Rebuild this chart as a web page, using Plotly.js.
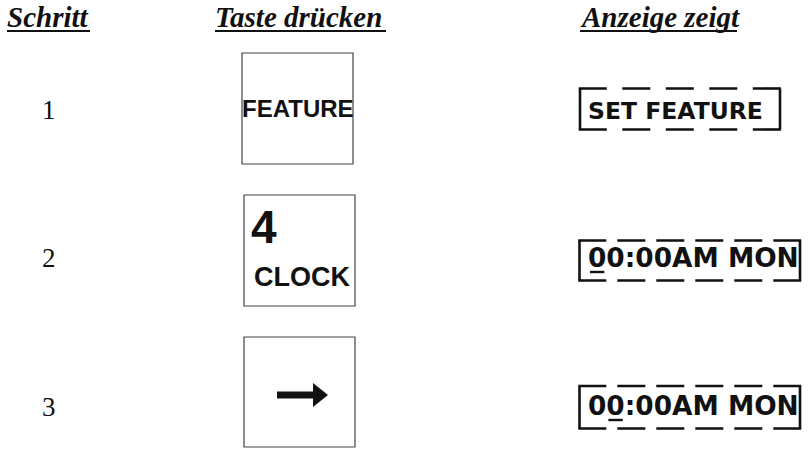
<!DOCTYPE html>
<html>
<head>
<meta charset="utf-8">
<script src="https://cdn.plot.ly/plotly-3.0.1.min.js"></script>
<style>html,body{margin:0;padding:0;background:#fff;}#chart{width:808px;height:450px;}</style>
</head>
<body>
<div id="chart"></div>
<script>
// ---- content ----
const headers = ['Schritt', 'Taste drücken', 'Anzeige zeigt'];
const steps = ['1', '2', '3'];
const keyTopLabels = ['', '4', ''];
const keyLabels = ['FEATURE', 'CLOCK', '→'];
const displayTexts = ['SET FEATURE', '00:00AM MON', '00:00AM MON'];
const cursorIndex = [null, 0, 1];

// ---- layout geometry (pixel space) ----
const headerX = [7, 215, 580];
const headerUnderline = [[7, 90], [215, 386], [580, 737]];
const stepX = 49;
const stepBaseline = [119, 267, 416];
const keyBoxes = [[242, 353, 53, 164], [244, 355, 195, 306], [244, 355, 337, 447]];
const dispBoxes = [[580, 780, 88.5, 129.5], [579.5, 800, 240.5, 280.5], [579.5, 800, 386, 428.5]];
const dispDash = ['28px,15.5px', '28px,11px', '28px,11px'];
const dispFont = [23.5, 26.4, 26.4];
const dispBaseline = [119, 267, 415];
const dispLeft = 588;
const zeroAdvance = 0.696; // DejaVu Sans Bold digit advance (em)

const shapes = [];
const annotations = [];
const ink = '#111';

function ann(x, y, text, font, xanchor) {
  annotations.push({
    x: x, y: y, xref: 'x', yref: 'y', text: text, showarrow: false,
    xanchor: xanchor || 'center', yanchor: 'middle', borderpad: 0, borderwidth: 0,
    font: Object.assign({color: ink}, font)
  });
}

// headers
headers.forEach((h, i) => {
  ann(headerX[i], 27 - 0.3375 * 29, h,
      {family: 'Liberation Serif, Times New Roman, serif', size: 29, weight: 'bold', style: 'italic'}, 'left');
  shapes.push({type: 'line', xref: 'x', yref: 'y', x0: headerUnderline[i][0], x1: headerUnderline[i][1],
    y0: 31, y1: 31, line: {color: ink, width: 2}});
});

// step numbers
steps.forEach((s, i) => {
  ann(stepX, stepBaseline[i] - 0.3375 * 27, s,
      {family: 'Liberation Serif, Times New Roman, serif', size: 27});
});

// key boxes
keyBoxes.forEach((b, i) => {
  shapes.push({type: 'rect', xref: 'x', yref: 'y', x0: b[0], x1: b[1], y0: b[2], y1: b[3],
    line: {color: '#444', width: 1.2}, fillcolor: 'rgba(0,0,0,0)'});
  const cx = (b[0] + b[1]) / 2;
  if (keyLabels[i] === '→') {
    // arrow glyph drawn as shapes
    shapes.push({type: 'rect', xref: 'x', yref: 'y', x0: 277, x1: 316, y0: 391.5, y1: 398.5,
      line: {width: 0}, fillcolor: ink});
    shapes.push({type: 'path', xref: 'x', yref: 'y', path: 'M313,383 L328,395 L313,407 Z',
      line: {width: 0}, fillcolor: ink});
  } else if (keyTopLabels[i]) {
    ann(251, 243 - 0.3465 * 46, keyTopLabels[i],
        {family: 'Liberation Sans, Arial, sans-serif', size: 46, weight: 'bold'}, 'left');
    ann(cx + 2.5, 287 - 0.3465 * 28, keyLabels[i],
        {family: 'Liberation Sans, Arial, sans-serif', size: 27, weight: 'bold'});
  } else {
    ann(cx + 0.5, 117 - 0.3465 * 24, keyLabels[i],
        {family: 'Liberation Sans, Arial, sans-serif', size: 24, weight: 'bold'});
  }
});

// displays
displayTexts.forEach((t, i) => {
  const b = dispBoxes[i];
  const fs = dispFont[i];
  // dashed top & bottom, solid sides
  [b[2], b[3]].forEach(yy => shapes.push({type: 'line', xref: 'x', yref: 'y', x0: b[0] - 1.2, x1: b[1] + 1.2,
    y0: yy, y1: yy, line: {color: ink, width: 2.6, dash: dispDash[i]}}));
  [b[0], b[1]].forEach(xx => shapes.push({type: 'line', xref: 'x', yref: 'y', x0: xx, x1: xx,
    y0: b[2], y1: b[3], line: {color: ink, width: 2.6}}));
  ann(dispLeft, dispBaseline[i] - 0.346 * fs, t,
      {family: 'DejaVu Sans, sans-serif', size: fs, weight: 'bold'}, 'left');
  if (cursorIndex[i] !== null) {
    const adv = zeroAdvance * fs;
    const x0 = dispLeft + cursorIndex[i] * adv + 2;
    shapes.push({type: 'line', xref: 'x', yref: 'y', x0: x0, x1: x0 + adv - 4,
      y0: dispBaseline[i] + 5, y1: dispBaseline[i] + 5, line: {color: ink, width: 2.4}});
  }
});

const data = [{type: 'scatter', x: [], y: [], mode: 'markers', hoverinfo: 'skip', showlegend: false}];

const layout = {
  width: 808, height: 450,
  margin: {l: 0, r: 0, t: 0, b: 0, pad: 0},
  paper_bgcolor: '#fff', plot_bgcolor: '#fff',
  showlegend: false,
  xaxis: {range: [0, 808], visible: false, fixedrange: true},
  yaxis: {range: [450, 0], visible: false, fixedrange: true},
  shapes: shapes,
  annotations: annotations
};

Plotly.newPlot('chart', data, layout, {displayModeBar: false, staticPlot: true});
</script>
</body>
</html>
